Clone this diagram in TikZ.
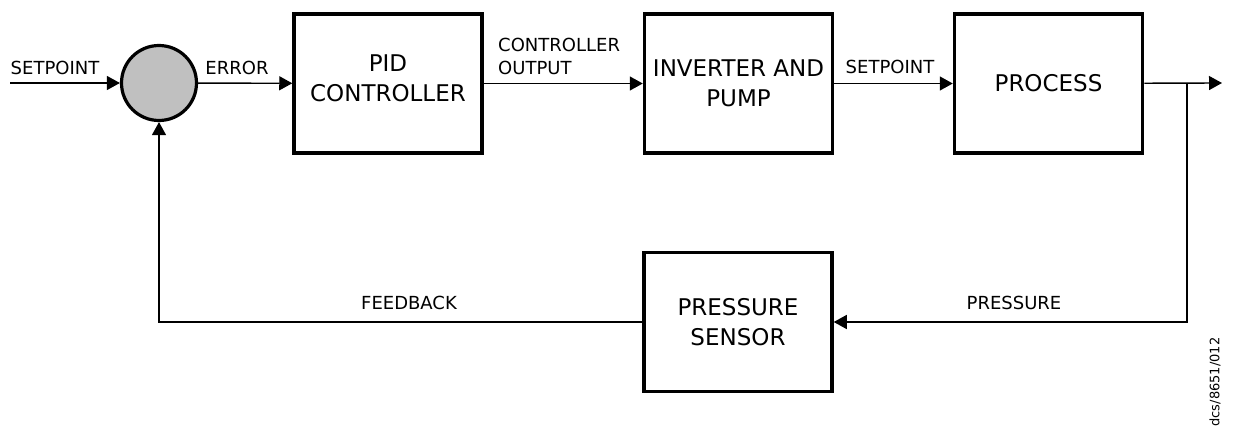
\documentclass[tikz,border=0pt]{standalone}
\usepackage{fontspec}
\setmainfont{DejaVu Sans}
\usetikzlibrary{arrows.meta}
\definecolor{sumgray}{HTML}{C0C0C0}
\begin{document}
\begin{tikzpicture}[x=1pt,y=-1pt,
  box/.style={draw, line width=3.5pt, minimum width=188pt, minimum height=139pt,
    align=center, font=\fontsize{23}{30}\selectfont, inner sep=0pt},
  boxtext/.style={align=center, font=\fontsize{23}{30}\selectfont, inner sep=0pt},
  lbl/.style={font=\fontsize{18}{23}\selectfont, inner sep=0pt},
  conn/.style={line width=1.4pt, -{Triangle[length=13pt,width=14pt]}}]
\path[use as bounding box] (0,0) rectangle (1234,441);
\node[circle, draw, line width=3.2pt, fill=sumgray, minimum size=75pt, inner sep=0pt] (sum) at (159,83) {};
\node[box] (pid) at (388,83.5) {};
\node[boxtext] (pidt) at ([yshift=5pt]pid.center) {PID\\CONTROLLER};
\node[box] (inv) at (738.5,83.5) {INVERTER AND\\PUMP};
\node[box] (proc) at (1048.5,83.5) {PROCESS};
\node[box] (sens) at (738,322) {PRESSURE\\SENSOR};
\coordinate (in) at (10,83);
\coordinate (out) at (1222,83);
\coordinate (br) at (1187,83);
\draw[conn] (in) -- (sum);
\draw[conn] (sum) -- (pid);
\draw[conn] (pid) -- (inv);
\draw[conn] (inv) -- (proc);
\draw[conn] (proc) -- (out);
\draw[conn] (br) |- (sens);
\draw[conn] (sens) -| (sum);
\node[lbl] (l1) at (55,68) {SETPOINT};
\node[lbl] (l2) at (237,68) {ERROR};
\node[lbl, align=left, anchor=west] (l3) at (498,56) {CONTROLLER\\OUTPUT};
\node[lbl] (l4) at (890,67) {SETPOINT};
\node[lbl] (l5) at (409,303) {FEEDBACK};
\node[lbl] (l6) at (1014,303) {PRESSURE};
\node[rotate=90, font=\fontsize{13}{15}\selectfont, inner sep=0pt] (ref) at (1215,382) {dcs/8651/012};
\end{tikzpicture}
\end{document}
